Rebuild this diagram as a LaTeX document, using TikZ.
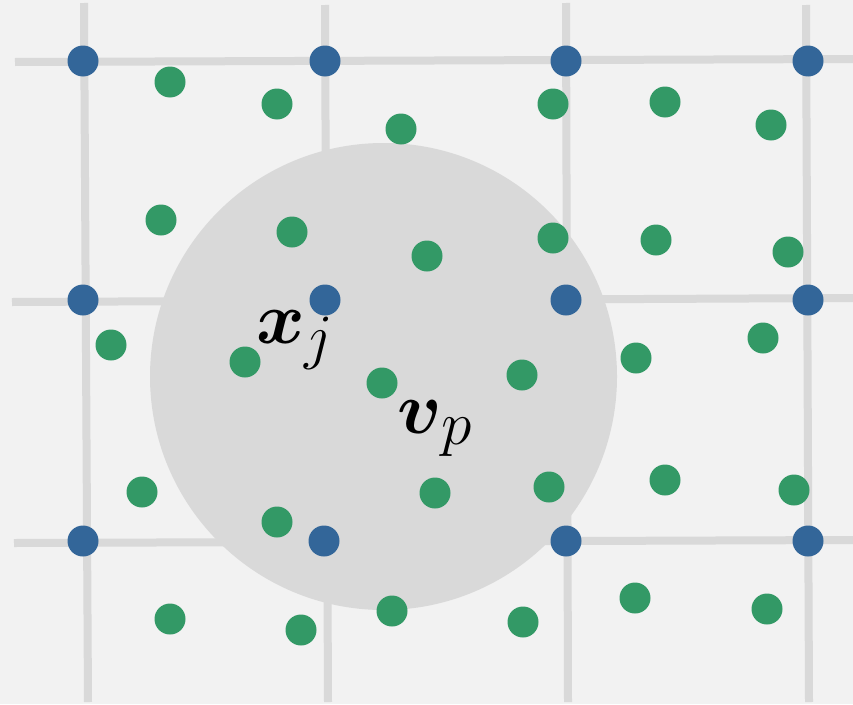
\documentclass[tikz,border=0pt]{standalone}
\usepackage{amsmath}
\definecolor{bgc}{HTML}{F2F2F2}
\definecolor{gridc}{HTML}{D9D9D9}
\definecolor{bluec}{HTML}{336699}
\definecolor{greenc}{HTML}{339966}
\tikzset{
  gridline/.style={draw=gridc, line width=8pt},
  bluedot/.style={circle, fill=bluec, minimum size=31pt, inner sep=0pt},
  greendot/.style={circle, fill=greenc, minimum size=31pt, inner sep=0pt},
  lbl/.style={anchor=base west, inner sep=0pt, font=\Huge}
}
\begin{document}
\begin{tikzpicture}[x=1pt,y=-1pt]
\fill[bgc] (0,0) rectangle (853,704);
\useasboundingbox (0,0) rectangle (853,704);
% grid
\draw[gridline] (84,3) -- (88,702);
\draw[gridline] (325,5) -- (328,702);
\draw[gridline] (566,3) -- (568,702);
\draw[gridline] (806,5) -- (809,702);
\draw[gridline] (15,62) -- (853,59);
\draw[gridline] (12,302) -- (853,298);
\draw[gridline] (14,543) -- (853,540);
% neighbourhood
\fill[gridc] (383.5,376.5) circle (233.5);
% blue grid nodes
\foreach \p [count=\i] in {(83,61),(325,61),(566,61),(808,61),(83,300),(325,300),(566,300),(808,300),(83,541),(324,541),(566,541),(808,541)}
  \node[bluedot] (b\i) at \p {};
% green particles
\foreach \p [count=\i] in {(170,82),(277,104),(401,129),(553,104),(665,102),(771,125),
  (161,220),(292,232),(427,256),(553,238),(656,240),(788,252),
  (111,345),(245,362),(382,383),(522,375),(636,358),(763,338),
  (142,492),(277,522),(435,493),(549,487),(665,480),(794,490),
  (170,619),(301,630),(392,611),(523,622),(635,598),(767,609)}
  \node[greendot] (g\i) at \p {};
% labels
\node[lbl] (xj) at (256,343) {\scalebox{2.97}{$\boldsymbol{x}_j$}};
\node[lbl] (vp) at (397,433) {\scalebox{2.97}{$\boldsymbol{v}_p$}};
\end{tikzpicture}
\end{document}
